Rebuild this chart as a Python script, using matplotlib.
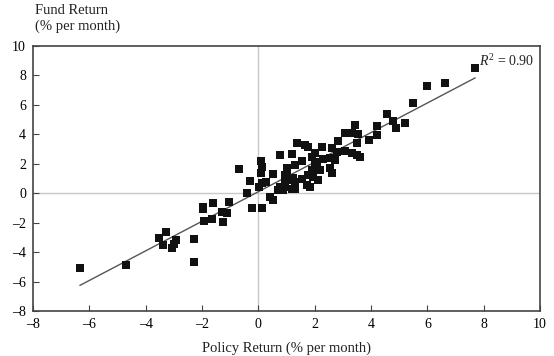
import numpy as np
import matplotlib
matplotlib.use("Agg")
import matplotlib.pyplot as plt
from matplotlib.ticker import FuncFormatter

policy_return = [
    -6.33, -4.70, -3.27, -3.52, -3.39, -2.93, -2.99, -3.05, -2.30, -2.28,
    -1.96, -1.96, -1.60, -1.03, -1.12, -1.29, -1.93, -1.64, -1.25, -0.69,
    -0.42, -0.30, -0.24, 0.13, 0.09, 0.12, 0.09, 0.13, 0.02, 0.28,
    0.52, 0.77, 1.20, 0.42, 0.52, 0.70, 0.84, 1.02, 0.95, 0.77,
    1.20, 1.20, 4.56, 4.21, 4.21, 3.43, 3.08, 3.32, 3.54, 3.93,
    3.50, 2.83, 2.26, 1.37, 1.65, 1.76, 2.00, 2.79, 3.08, 3.32,
    3.50, 3.60, 2.54, 2.72, 2.29, 1.55, 1.90, 2.00, 1.02, 1.30,
    2.07, 2.18, 2.54, 1.90, 1.76, 2.61, 0.95, 1.23, 1.55, 1.94,
    2.11, 0.95, 1.30, 1.30, 1.72, 1.83, 0.87, 7.69, 6.62, 5.98,
    5.49, 4.77, 5.20, 4.90, 2.60,
]
fund_return = [
    -5.10, -4.89, -2.64, -3.05, -3.50, -3.18, -3.46, -3.73, -3.10, -4.66,
    -0.95, -1.10, -0.65, -0.60, -1.34, -1.30, -1.88, -1.78, -1.98, 1.62,
    0.00, 0.83, -1.03, -0.97, 2.19, 1.80, 1.37, 0.70, 0.42, 0.75,
    1.30, 2.62, 2.68, -0.26, -0.46, 0.22, 0.35, 1.44, 0.69, 0.42,
    0.90, 0.29, 5.38, 4.56, 3.98, 4.63, 4.08, 4.08, 4.00, 3.60,
    3.40, 3.54, 3.13, 3.40, 3.27, 3.14, 2.70, 2.80, 2.90, 2.70,
    2.60, 2.45, 2.38, 2.24, 2.31, 2.17, 2.45, 2.10, 1.70, 1.90,
    1.85, 1.58, 1.71, 1.58, 1.24, 1.37, 1.24, 1.03, 0.96, 1.10,
    0.90, 0.42, 0.76, 0.28, 0.56, 0.42, 0.22, 8.50, 7.48, 7.28,
    6.12, 4.90, 4.75, 4.43, 3.05,
]
x_ticks = [-8, -6, -4, -2, 0, 2, 4, 6, 8, 10]
y_ticks = [-8, -6, -4, -2, 0, 2, 4, 6, 8, 10]
r_squared = 0.90

plt.rcParams['font.family'] = ['Liberation Serif', 'DejaVu Serif']
plt.rcParams['mathtext.fontset'] = 'custom'
plt.rcParams['mathtext.rm'] = 'Liberation Serif'
plt.rcParams['mathtext.it'] = 'Liberation Serif:italic'

fig = plt.figure(figsize=(5.54, 3.56), dpi=100)
ax = fig.add_axes([33/554, 1-311/356, (540-33)/554, (311-46)/356])

x = np.array(policy_return)
y = np.array(fund_return)

ax.axhline(0, color='#c8c8c8', lw=1.0, zorder=1)
ax.axvline(0, color='#c8c8c8', lw=1.0, zorder=1)

slope, intercept = np.polyfit(x, y, 1)
xl = np.array([x.min(), x.max()])
ax.plot(xl, slope*xl + intercept, color='#555555', lw=1.0, zorder=2)

ax.plot(x, y, 's', color='#111111', markersize=5.2, markeredgewidth=0, zorder=3)

ax.set_xlim(-8, 10)
ax.set_ylim(-8, 10)
ax.set_xticks(x_ticks)
ax.set_yticks(y_ticks)
fmt = FuncFormatter(lambda v, p: ('–%d' % abs(v)) if v < 0 else '%d' % v)
ax.xaxis.set_major_formatter(fmt)
ax.yaxis.set_major_formatter(fmt)
ax.tick_params(direction='in', length=4, width=0.8, color='#444444',
               labelsize=10, pad=5)
for s in ax.spines.values():
    s.set_color('#444444')
    s.set_linewidth(1.2)

ax.text(0.988, 0.975, r'$R^2$ = %.2f' % r_squared, transform=ax.transAxes,
        ha='right', va='top', fontsize=10, color='#222222')

fig.text(35/554, 1-4/356, 'Fund Return\n(% per month)', ha='left', va='top',
         fontsize=10.5, color='#222222', linespacing=1.25)
fig.text(0.5 * (33 + 540) / 554, 1 - 348/356, 'Policy Return (% per month)',
         ha='center', va='center', fontsize=10.5, color='#222222')

fig.savefig('out.png', dpi=100)
